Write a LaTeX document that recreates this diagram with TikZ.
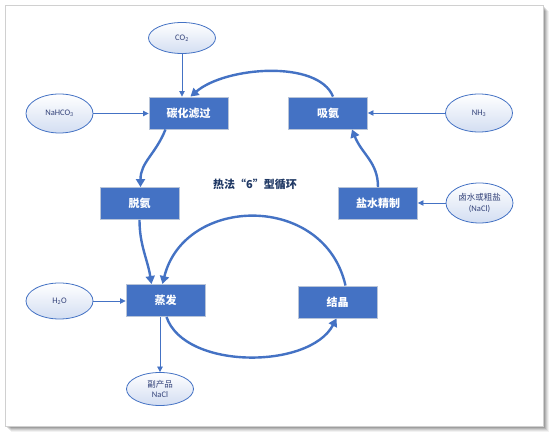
\documentclass[tikz,border=0pt]{standalone}
\usepackage{fontspec}
\setmainfont{Carlito}
\newfontfamily\cjk{Noto Sans CJK SC}
\usetikzlibrary{shapes.geometric,arrows.meta}
\definecolor{boxblue}{HTML}{4472C4}
\definecolor{boxline}{HTML}{B8C4D8}
\definecolor{ovalblue}{HTML}{D3DEF2}
\definecolor{ovaltext}{HTML}{34437A}
\definecolor{titlecol}{HTML}{1F3864}
\definecolor{framecol}{HTML}{D0D0D0}
\begin{document}
\begin{tikzpicture}[x=1pt,y=-1pt,
  stepbox/.style={draw=boxline, line width=0.9pt, fill=boxblue, minimum width=79pt, minimum height=32pt, inner sep=0pt, text=white, font=\cjk\bfseries\fontsize{11}{13}\selectfont},
  oval/.style={ellipse, draw=boxblue, line width=0.8pt, top color=white, bottom color=ovalblue, inner sep=0pt, minimum width=67pt, minimum height=37pt, text=ovaltext, font=\fontsize{8.5}{10.5}\selectfont, align=center},
  feedarrow/.style={draw=boxblue, line width=0.8pt, -{Triangle[length=5.5pt,width=5.5pt]}},
  cyclearrow/.style={draw=boxblue, line width=2.4pt, -{Triangle[length=8pt,width=9pt]}}]
\useasboundingbox (0,0) rectangle (550,438);
% frame with shadow
\foreach \d/\o in {6/0.05,5/0.07,4/0.09,3/0.11,2/0.13}
  \fill[black,opacity=\o] (5+\d,5+\d) rectangle (543+\d,426+\d);
\draw[framecol, fill=white, line width=0.6pt] (5,5) rectangle (543,426);

% boxes
\node[stepbox] (tl) at (188.5,113) {碳化滤过};
\node[stepbox] (xa) at (328,113) {吸氨};
\node[stepbox] (tuo) at (139.5,203.5) {脱氨};
\node[stepbox] (ys) at (378,203.5) {盐水精制};
\node[stepbox] (zf) at (165.5,300.5) {蒸发};
\node[stepbox] (jj) at (337.5,302) {结晶};

% ellipses
\node[oval, minimum height=31pt] (co2) at (182,38) {CO\textsubscript{2}};
\node[oval, minimum height=39pt] (nahco) at (59.5,113.5) {NaHCO\textsubscript{3}};
\node[oval, minimum height=38pt] (nh3) at (479,113) {NH\textsubscript{3}};
\node[oval, minimum height=40pt] (ls) at (479.5,203) {{\cjk 卤水或粗盐}\\(NaCl)};
\node[oval, minimum height=36pt] (h2o) at (59.5,301) {H\textsubscript{2}O};
\node[oval, minimum height=33pt] (fcp) at (160,389) {{\cjk 副产品}\\NaCl};

% title
\node[text=titlecol, font=\cjk\bfseries\fontsize{11}{13}\selectfont] (title) at (255,184) {热法“6”型循环};

% feed arrows
\draw[feedarrow] (co2.south) -- (co2.south |- tl.north);
\draw[feedarrow] (nahco.east) -- (nahco.east -| tl.west);
\draw[feedarrow] (nh3.west) -- (nh3.west -| xa.east);
\draw[feedarrow] (ls.west) -- (ls.west -| ys.east);
\draw[feedarrow] (h2o.east) -- (h2o.east -| zf.west);
\draw[feedarrow] (zf.south -| fcp.north) -- (fcp.north);

% cycle arrows
\draw[cyclearrow] ([xshift=5pt]xa.north) .. controls +(-15,-37) and +(35,-30) .. ([xshift=2pt]tl.north);
\draw[cyclearrow] ([xshift=-23pt]tl.south) .. controls +(-10,25) and +(0,-25) .. ([xshift=1pt]tuo.north);
\draw[cyclearrow] (ys.north) .. controls +(0,-25) and +(10,25) .. ([xshift=24pt]xa.south);
\draw[cyclearrow] (tuo.south) .. controls +(0,25) and +(-4,-25) .. ([xshift=-14pt]zf.north);
\draw[cyclearrow] ([xshift=8pt]jj.north) .. controls +(-21,-93) and +(22,-89) .. ([xshift=-3pt]zf.north);
\draw[cyclearrow] ([xshift=1pt]zf.south) .. controls +(18,53) and +(-27,51) .. ([xshift=-1pt]jj.south);
\end{tikzpicture}
\end{document}
